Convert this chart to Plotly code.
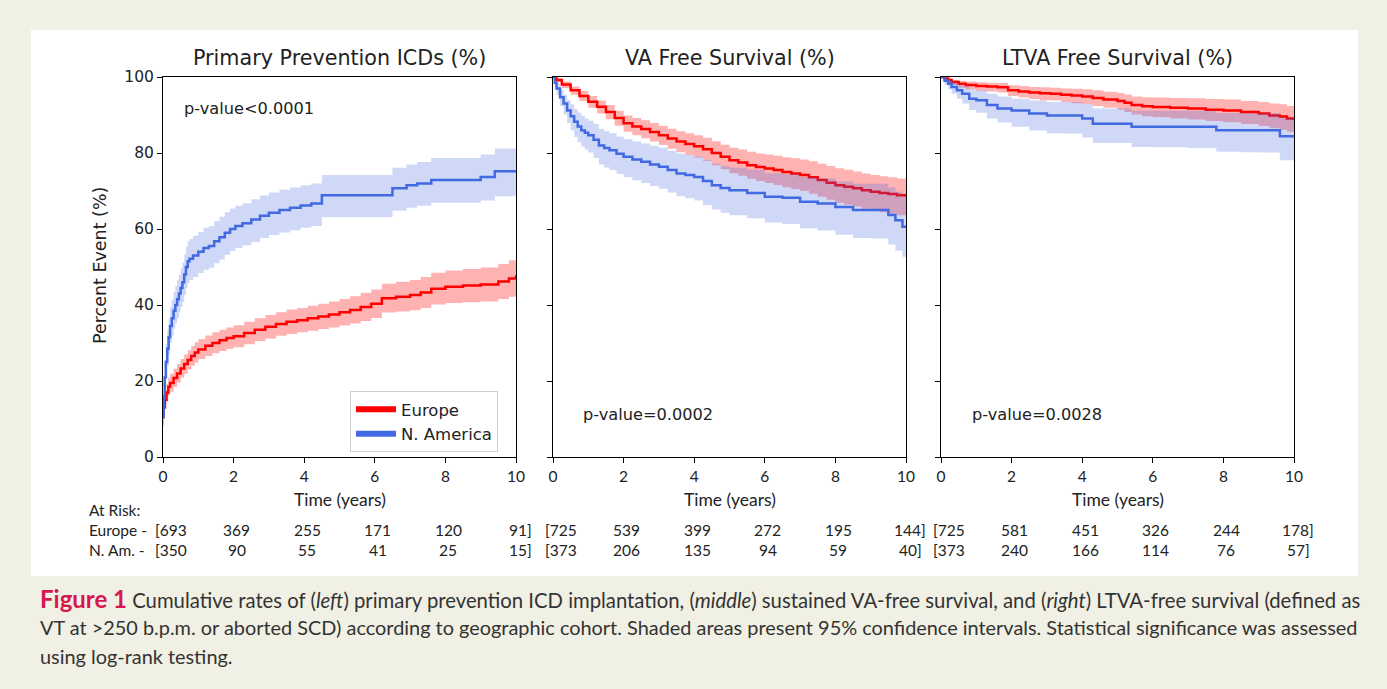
import plotly.graph_objects as go

# ---------------- data ----------------
# Panel 1: Primary prevention ICDs (cumulative %)
p1_eu_t = [0, 0.02, 0.05, 0.1, 0.15, 0.2, 0.3, 0.4, 0.5, 0.6, 0.7, 0.8, 0.9, 1.0, 1.2, 1.4, 1.6, 1.8, 2.0, 2.3, 2.6, 2.9, 3.2, 3.5, 3.8, 4.1, 4.4, 4.7, 5.0, 5.3, 5.6, 5.9, 6.2, 6.6, 7.0, 7.3, 7.6, 8.0, 8.5, 9.0, 9.5, 9.8, 10.0]
p1_eu_est = [10.5, 13, 15, 17, 18.5, 19.5, 20.8, 22, 23.3, 24.5, 25.5, 26.6, 27.5, 28.3, 29.3, 30, 30.7, 31.3, 31.8, 32.6, 33.5, 34.3, 35, 35.6, 36, 36.5, 37, 37.5, 38.1, 38.7, 39.5, 40.3, 41.8, 42.2, 42.6, 43.3, 44.3, 44.8, 45.1, 45.4, 46.2, 47, 47.8]
p1_eu_lo = [8.5, 11, 12.8, 14.8, 16.2, 17.2, 18.5, 19.6, 20.9, 22, 23, 24, 24.9, 25.7, 26.6, 27.3, 27.9, 28.5, 28.9, 29.7, 30.5, 31.2, 31.9, 32.4, 32.8, 33.2, 33.7, 34.1, 34.6, 35.1, 35.8, 36.6, 38, 38.3, 38.6, 39.2, 40.1, 40.5, 40.7, 40.9, 41.6, 42.2, 42.8]
p1_eu_hi = [12.7, 15.2, 17.3, 19.3, 20.9, 21.9, 23.2, 24.5, 25.8, 27, 28.1, 29.2, 30.2, 31, 32, 32.8, 33.5, 34.1, 34.7, 35.6, 36.5, 37.4, 38.1, 38.8, 39.2, 39.8, 40.3, 40.9, 41.6, 42.3, 43.2, 44.1, 45.6, 46.1, 46.6, 47.4, 48.5, 49.1, 49.5, 49.9, 50.8, 51.8, 52.8]

p1_na_t = [0, 0.02, 0.05, 0.08, 0.12, 0.16, 0.2, 0.25, 0.3, 0.35, 0.4, 0.45, 0.5, 0.55, 0.6, 0.65, 0.7, 0.75, 0.85, 1.0, 1.15, 1.3, 1.45, 1.6, 1.75, 1.9, 2.05, 2.25, 2.5, 2.75, 3.0, 3.3, 3.6, 3.9, 4.2, 4.5, 5.0, 5.5, 6.0, 6.5, 6.9, 7.2, 7.6, 8.0, 8.5, 9.0, 9.4, 10]
p1_na_est = [10.5, 16, 21, 25, 28.5, 31.5, 34.5, 36.5, 38.5, 40, 41.5, 43, 44.5, 46, 48, 50, 51.5, 52.2, 53, 54, 55, 55.5, 56.8, 57.8, 59, 60, 60.8, 61.5, 62.5, 63.5, 64.3, 65, 65.6, 66.2, 66.7, 68.9, 68.9, 68.9, 68.9, 70.7, 71.5, 72, 72.9, 72.9, 72.9, 73.7, 75.2, 75.2]
p1_na_lo = [8, 12.5, 17, 20.5, 24, 27, 30, 32, 33.8, 35.2, 36.6, 38, 39.4, 40.8, 42.6, 44.5, 45.8, 46.6, 47.4, 48.4, 49.3, 49.8, 51, 52, 53.2, 54.2, 55, 55.7, 56.6, 57.6, 58.4, 59.1, 59.7, 60.3, 60.8, 63.1, 63.1, 63.1, 63.1, 64.8, 65.6, 66.1, 66.9, 66.9, 66.9, 67.5, 68.6, 68.6]
p1_na_hi = [13.5, 20, 25.5, 29.8, 33.3, 36.4, 39.4, 41.4, 43.5, 45, 46.5, 48, 49.6, 51.2, 53.2, 55.3, 56.8, 57.4, 58.2, 59.2, 60.3, 60.8, 62.1, 63.2, 64.4, 65.4, 66.1, 66.8, 67.8, 68.8, 69.6, 70.3, 70.9, 71.5, 72, 74.2, 74.2, 74.2, 74.2, 76.1, 77, 77.6, 78.7, 78.7, 78.7, 79.6, 81.2, 81.2]

# Panel 2: VA free survival (%)
p2_eu_t = [0, 0.1, 0.25, 0.5, 0.75, 1.0, 1.25, 1.5, 1.75, 2.0, 2.25, 2.5, 2.75, 3.0, 3.25, 3.5, 3.75, 4.0, 4.25, 4.5, 4.75, 5.0, 5.25, 5.5, 5.75, 6.0, 6.25, 6.5, 6.75, 7.0, 7.25, 7.5, 7.75, 8.0, 8.25, 8.5, 8.75, 9.0, 9.25, 9.5, 9.75, 10]
p2_eu_est = [100, 99.2, 98, 96.5, 95, 93.5, 92.2, 90.8, 89.2, 87.8, 87, 86.3, 85.5, 84.7, 83.8, 83, 82.4, 81.8, 81, 80, 79, 78.1, 77.5, 76.8, 76.3, 75.9, 75.5, 75, 74.6, 74.2, 73.6, 72.9, 72.2, 71.5, 71.1, 70.7, 70.2, 69.8, 69.5, 69.2, 68.9, 68.5]
p2_eu_lo = [100, 98.6, 97.1, 95.3, 93.6, 91.9, 90.4, 88.9, 87.2, 85.6, 84.7, 83.9, 83, 82.1, 81.1, 80.2, 79.5, 78.8, 77.9, 76.8, 75.7, 74.7, 74, 73.2, 72.6, 72.1, 71.6, 71, 70.5, 70, 69.3, 68.5, 67.7, 66.9, 66.4, 65.9, 65.3, 64.8, 64.4, 64, 63.6, 63.1]
p2_eu_hi = [100, 99.6, 98.8, 97.5, 96.3, 95, 93.8, 92.6, 91.1, 89.9, 89.2, 88.6, 87.9, 87.2, 86.4, 85.7, 85.2, 84.7, 84, 83.1, 82.2, 81.4, 80.9, 80.3, 79.9, 79.6, 79.3, 78.9, 78.6, 78.3, 77.8, 77.2, 76.6, 76, 75.6, 75.1, 74.6, 74.2, 73.9, 73.6, 73.3, 73]

p2_na_t = [0, 0.05, 0.1, 0.2, 0.3, 0.4, 0.5, 0.6, 0.7, 0.8, 0.9, 1.0, 1.15, 1.3, 1.45, 1.6, 1.8, 2.0, 2.25, 2.5, 2.75, 3.0, 3.25, 3.5, 3.75, 4.0, 4.25, 4.5, 4.75, 5.0, 5.5, 6.0, 6.5, 7.0, 7.5, 8.0, 8.5, 9.0, 9.5, 9.7, 9.9, 10]
p2_na_est = [100, 98.5, 97, 94.7, 93, 91.2, 89.7, 88.2, 87, 86, 85.3, 84.7, 83.5, 82, 81.3, 80.7, 79.8, 79, 78.3, 77.7, 77, 76.4, 75.5, 74.6, 74.2, 73.7, 72.6, 71.5, 70.8, 70.2, 69.5, 68.5, 68.2, 67.2, 66.7, 65.8, 65, 65, 63.7, 62.3, 60.6, 60.6]
p2_na_lo = [100, 97.2, 95.3, 92.4, 90.1, 87.9, 86, 84.2, 82.8, 81.7, 80.9, 80.1, 78.7, 77, 76.2, 75.5, 74.5, 73.6, 72.8, 72.1, 71.3, 70.6, 69.6, 68.6, 68.1, 67.5, 66.3, 65.1, 64.3, 63.6, 62.8, 61.7, 61.3, 60.2, 59.6, 58.5, 57.6, 57.5, 55.9, 54.3, 52.7, 52.7]
p2_na_hi = [100, 99.3, 98.3, 96.6, 95.3, 93.9, 92.8, 91.6, 90.6, 89.8, 89.1, 88.5, 87.6, 86.3, 85.7, 85.2, 84.3, 83.6, 83, 82.5, 81.9, 81.4, 80.6, 79.8, 79.5, 79.1, 78.1, 77.2, 76.6, 76.1, 75.6, 74.7, 74.5, 73.7, 73.3, 72.5, 71.9, 71.9, 70.9, 69.8, 68.5, 68.5]

# Panel 3: LTVA free survival (%)
p3_eu_t = [0, 0.1, 0.2, 0.3, 0.5, 0.7, 1.0, 1.3, 1.6, 1.9, 2.2, 2.5, 2.8, 3.1, 3.4, 3.7, 4.0, 4.3, 4.6, 5.0, 5.2, 5.4, 5.7, 6.0, 6.5, 7.0, 7.5, 8.0, 8.5, 9.0, 9.3, 9.6, 9.8, 10]
p3_eu_est = [100, 99.6, 99.2, 98.7, 98.2, 97.9, 97.6, 97.5, 97.3, 96.5, 96.2, 95.9, 95.7, 95.6, 95.3, 95.1, 94.9, 94.5, 94.1, 93.7, 93.2, 92.6, 92.3, 92.1, 91.9, 91.7, 91.4, 91.2, 90.8, 90.4, 89.9, 89.6, 89.1, 88.6]
p3_eu_lo = [100, 99.1, 98.5, 97.9, 97.2, 96.8, 96.4, 96.2, 95.9, 95, 94.6, 94.2, 93.9, 93.8, 93.4, 93.1, 92.8, 92.4, 91.9, 91.4, 90.8, 90.1, 89.7, 89.4, 89.1, 88.8, 88.4, 88.1, 87.6, 87.1, 86.5, 86.1, 85.6, 85]
p3_eu_hi = [100, 99.9, 99.7, 99.3, 99, 98.8, 98.6, 98.5, 98.4, 97.8, 97.6, 97.4, 97.3, 97.2, 97, 96.9, 96.8, 96.5, 96.1, 95.8, 95.4, 94.9, 94.7, 94.6, 94.5, 94.4, 94.2, 94.1, 93.7, 93.4, 93, 92.8, 92.4, 92]

p3_na_t = [0, 0.1, 0.2, 0.3, 0.45, 0.6, 0.8, 1.0, 1.3, 1.6, 2.0, 2.5, 3.0, 3.5, 4.0, 4.3, 5.0, 5.4, 6.0, 7.0, 7.8, 8.5, 9.0, 9.6, 10]
p3_na_est = [100, 99, 98.2, 97.4, 96.5, 95.6, 94.3, 93.9, 92.6, 91.7, 91.2, 90.4, 89.9, 89.9, 89.1, 87.7, 87.7, 86.9, 86.9, 86.9, 86, 86, 86, 84.4, 84.4]
p3_na_lo = [100, 98, 96.8, 95.6, 94.3, 93, 91.3, 90.6, 89.1, 88, 86.9, 85.9, 85.2, 85.1, 84.1, 82.6, 82.6, 81.6, 81.5, 81.3, 80.3, 80.2, 80.1, 78.1, 78.1]
p3_na_hi = [100, 99.7, 99.3, 98.8, 98.2, 97.7, 96.8, 96.5, 95.6, 94.9, 94.3, 93.8, 93.4, 93.4, 92.8, 91.7, 91.7, 91.1, 91.1, 91.1, 90.5, 90.5, 90.5, 89.3, 89.3]

# At-risk tables
risk_times = [0, 2, 4, 6, 8, 10]
p1_risk_eu = [693, 369, 255, 171, 120, 91]
p1_risk_na = [350, 90, 55, 41, 25, 15]
p2_risk_eu = [725, 539, 399, 272, 195, 144]
p2_risk_na = [373, 206, 135, 94, 59, 40]
p3_risk_eu = [725, 581, 451, 326, 244, 178]
p3_risk_na = [373, 240, 166, 114, 76, 57]

titles = ["Primary Prevention ICDs (%)", "VA Free Survival (%)", "LTVA Free Survival (%)"]
pvalues = ["p-value<0.0001", "p-value=0.0002", "p-value=0.0028"]
group_names = ["Europe", "N. America"]
x_ticks = [0, 2, 4, 6, 8, 10]
y_ticks = [0, 20, 40, 60, 80, 100]

# ---------------- styling ----------------
W, H = 1387, 689
BEIGE = "#f1f0e4"
RED = "#ff0000"
RED_FILL = "rgba(255,0,0,0.30)"
BLUE = "#4169e1"
BLUE_FILL = "rgba(65,105,225,0.25)"
TXT = "#222222"
MPL_FONT = "DejaVu Sans"
CAL_FONT = "Lato"


def px_x(p):
    return p / W


def px_y(p):
    return 1 - p / H


domains = [(163, 516), (553, 906), (941, 1294)]
y_dom = [px_y(457), px_y(77)]

fig = go.Figure()

panels = [
    (p1_eu_t, p1_eu_est, p1_eu_lo, p1_eu_hi, p1_na_t, p1_na_est, p1_na_lo, p1_na_hi),
    (p2_eu_t, p2_eu_est, p2_eu_lo, p2_eu_hi, p2_na_t, p2_na_est, p2_na_lo, p2_na_hi),
    (p3_eu_t, p3_eu_est, p3_eu_lo, p3_eu_hi, p3_na_t, p3_na_est, p3_na_lo, p3_na_hi),
]

for i, pdata in enumerate(panels):
    xa = "x" if i == 0 else f"x{i+1}"
    ya = "y" if i == 0 else f"y{i+1}"
    groups = [(pdata[0:4], RED, RED_FILL), (pdata[4:8], BLUE, BLUE_FILL)]
    for (t, est, lo, hi), col, fcol in groups:
        fig.add_trace(go.Scatter(x=t, y=lo, mode="lines", line=dict(width=0, shape="hv", color=fcol),
                                 showlegend=False, hoverinfo="skip", xaxis=xa, yaxis=ya))
        fig.add_trace(go.Scatter(x=t, y=hi, mode="lines", line=dict(width=0, shape="hv", color=fcol),
                                 fill="tonexty", fillcolor=fcol,
                                 showlegend=False, hoverinfo="skip", xaxis=xa, yaxis=ya))
        fig.add_trace(go.Scatter(x=t, y=est, mode="lines", line=dict(width=2.5, shape="hv", color=col),
                                 showlegend=False, xaxis=xa, yaxis=ya))

# legend entries (thick lines like the reference legend)
for name, col in zip(group_names, [RED, BLUE]):
    fig.add_trace(go.Scatter(x=[None], y=[None], mode="lines", line=dict(width=6, color=col),
                             name=name, xaxis="x", yaxis="y"))

layout = dict(
    width=W, height=H,
    margin=dict(l=0, r=0, t=0, b=0, autoexpand=False),
    paper_bgcolor=BEIGE,
    plot_bgcolor="white",
    showlegend=True,
    legend=dict(x=px_x(350), y=px_y(391), xanchor="left", yanchor="top",
                bgcolor="white", bordercolor="#cfcfcf", borderwidth=1,
                traceorder="normal",
                font=dict(family=MPL_FONT, size=16.5, color=TXT),
                tracegroupgap=4, itemwidth=40),
)

for i, (x0, x1) in enumerate(domains):
    sfx = "" if i == 0 else str(i + 1)
    layout["xaxis" + sfx] = dict(
        domain=[px_x(x0), px_x(x1)], range=[0, 10], anchor="y" + sfx, automargin=False,
        tickmode="array", tickvals=x_ticks, ticks="outside", ticklen=5, tickcolor="black",
        showline=True, linecolor="black", linewidth=1, mirror=True,
        showgrid=False, zeroline=False,
        tickfont=dict(family=CAL_FONT, size=15.5, color=TXT),
    )
    layout["yaxis" + sfx] = dict(
        domain=y_dom, range=[0, 100], anchor="x" + sfx, automargin=False,
        tickmode="array", tickvals=y_ticks, ticks="outside", ticklen=5, tickcolor="black",
        showline=True, linecolor="black", linewidth=1, mirror=True,
        showgrid=False, zeroline=False, showticklabels=(i == 0),
        tickfont=dict(family=MPL_FONT, size=15.5, color=TXT),
    )

fig.update_layout(**layout)

# white panel behind the chart
fig.add_shape(type="rect", xref="paper", yref="paper", layer="below",
              x0=px_x(31), x1=px_x(1358), y0=px_y(576), y1=px_y(30),
              fillcolor="white", line=dict(width=0))

ann = []


def add_text(text, x, y, size, family, xanchor="center", xref="paper", xshift=0, color=TXT, angle=0):
    ann.append(dict(text=text, x=x, y=y, xref=xref, yref="paper", xanchor=xanchor, yanchor="middle",
                    xshift=xshift, textangle=angle, showarrow=False,
                    font=dict(family=family, size=size, color=color)))


for i, (x0, x1) in enumerate(domains):
    cx = px_x((x0 + x1) / 2)
    add_text(titles[i], cx, px_y(58), 20.7, MPL_FONT)
    add_text("Time (years)", cx, px_y(499), 17.5, CAL_FONT)

add_text("Percent Event (%)", px_x(100), px_y(266), 17.5, MPL_FONT, angle=-90)

pv_pos = [(182, 108), (581, 414), (970, 414)]
for i, (px, py) in enumerate(pv_pos):
    add_text(pvalues[i], px_x(px), px_y(py), 16.2, MPL_FONT, xanchor="left")

# at-risk table
add_text("At Risk:", px_x(87), px_y(510), 15.5, CAL_FONT, xanchor="left")
add_text("Europe -", px_x(87), px_y(530), 15.5, CAL_FONT, xanchor="left")
add_text("N. Am. -", px_x(87), px_y(550), 15.5, CAL_FONT, xanchor="left")

risk_rows = [(p1_risk_eu, p1_risk_na), (p2_risk_eu, p2_risk_na), (p3_risk_eu, p3_risk_na)]
for i, (reu, rna) in enumerate(risk_rows):
    xa = "x" if i == 0 else f"x{i+1}"
    for row, ypx in [(reu, 530), (rna, 550)]:
        n = len(row)
        for j, (tv, val) in enumerate(zip(risk_times, row)):
            s = str(val)
            shift = 3
            if j == 0:
                s = "[" + s
                shift = 8
            elif j == n - 1:
                s = s + "]"
                shift = 4
            add_text(s, tv, px_y(ypx), 15.5, CAL_FONT, xref=xa, xshift=shift)

# caption
cap_lines = [
    "<b><span style='color:#d6184f;font-size:24px'>Figure 1</span></b> Cumulative rates of (<i>left</i>) primary prevention ICD implantation, (<i>middle</i>) sustained VA-free survival, and (<i>right</i>) LTVA-free survival (defined as",
    "VT at >250 b.p.m. or aborted SCD) according to geographic cohort. Shaded areas present 95% confidence intervals. Statistical significance was assessed",
    "using log-rank testing.",
]
cap_sizes = [20.3, 19.9, 19.9]
for line, ypx, sz in zip(cap_lines, [598, 627, 656], cap_sizes):
    add_text(line, px_x(38), px_y(ypx), sz, "Lato", xanchor="left", color="#333333")

fig.update_layout(annotations=ann)

fig.write_html("out.html", config={"displayModeBar": False},
               post_script="document.body.style.margin='0';document.body.style.background='%s';" % BEIGE)
